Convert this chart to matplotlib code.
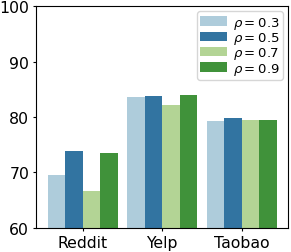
import numpy as np
import matplotlib
matplotlib.use("Agg")
import matplotlib.pyplot as plt
import seaborn as sns

datasets = ["Reddit", "Yelp", "Taobao"]
rho_labels = [r"$\rho=0.3$", r"$\rho=0.5$", r"$\rho=0.7$", r"$\rho=0.9$"]
rho_03 = [69.5, 83.7, 79.2]
rho_05 = [73.8, 83.8, 79.9]
rho_07 = [66.7, 82.2, 79.4]
rho_09 = [73.5, 84.0, 79.4]
series = [rho_03, rho_05, rho_07, rho_09]

colors = [sns.desaturate(c, 0.75) for c in sns.color_palette("Paired", 4)]

fig, ax = plt.subplots(figsize=(2.91, 2.53), dpi=100)
x = np.arange(len(datasets))
w = 0.22
for i, vals in enumerate(series):
    ax.bar(x + (i - 1.5) * w, vals, width=w, color=colors[i], label=rho_labels[i])

ax.set_ylim(60, 100)
ax.set_yticks([60, 70, 80, 90, 100])
ax.set_xticks(x)
ax.set_xticklabels(datasets)
ax.tick_params(labelsize=11.3, length=2.5, pad=2.5)
ax.legend(loc="upper right", fontsize=9.5, labelspacing=-0.05, handletextpad=0.45,
          borderpad=0.25, handlelength=2.0, borderaxespad=0.4)

plt.subplots_adjust(left=0.124, right=0.99, top=0.972, bottom=0.095)
plt.savefig("out.png", dpi=100)
